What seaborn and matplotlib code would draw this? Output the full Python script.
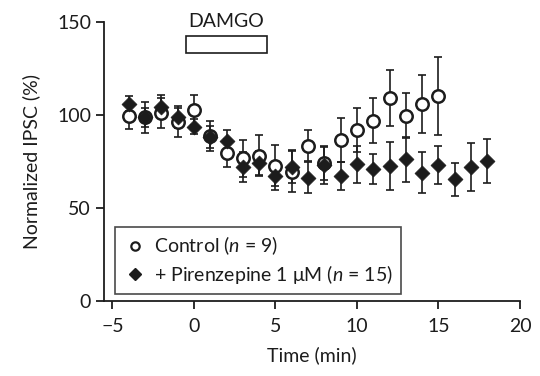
import numpy as np
import pandas as pd
import seaborn as sns
import matplotlib.pyplot as plt
from matplotlib.patches import Rectangle
from matplotlib.lines import Line2D

# values
ctrl_t = list(range(-4, 16))
ctrl_y = [99.5, 98.7, 101, 96, 102.7, 88.7, 79.7, 76.7, 78, 72.7,
          69.5, 83.5, 74, 86.6, 92, 97, 109.3, 99.6, 105.9, 110.4]
ctrl_err = [7, 8.5, 8, 8, 8, 8, 7.5, 10, 11, 11,
            11, 8.5, 9, 12, 12, 12, 15, 12, 15.5, 21]

pir_t = list(range(-4, 19))
pir_y = [106, 98.7, 104.5, 99, 93.7, 88.3, 86.2, 72.2, 74, 67.2, 72.2, 66.3,
         73.1, 67.2, 73.5, 71, 72.6, 76.2, 69, 73.1, 65.4, 72.2, 75.3]
pir_err = [4, 5, 6, 6, 4, 6, 6, 8, 6.5, 7.5, 9, 8.5,
           10, 7.5, 10, 8, 13, 12, 11, 10, 9, 13, 12]

df_ctrl = pd.DataFrame({'time': ctrl_t, 'ipsc': ctrl_y})
df_pir = pd.DataFrame({'time': pir_t, 'ipsc': pir_y})

sns.set_style('ticks')
plt.rcParams['font.family'] = ['Lato', 'DejaVu Sans']
plt.rcParams['mathtext.fontset'] = 'custom'
plt.rcParams['mathtext.it'] = 'Lato:italic'
plt.rcParams['mathtext.rm'] = 'Lato'

ink = '#1c1c1c'
fs = 14
fig = plt.figure(figsize=(5.4, 3.76), dpi=100)
ax = fig.add_axes([0.193, 0.1995, 0.770, 0.742])

# error bars
ax.errorbar(ctrl_t, ctrl_y, yerr=ctrl_err, fmt='none', ecolor=ink,
            elinewidth=1.2, capsize=3, capthick=1.2, zorder=2)
ax.errorbar(pir_t, pir_y, yerr=pir_err, fmt='none', ecolor=ink,
            elinewidth=1.2, capsize=3, capthick=1.2, zorder=2)

# markers
sns.scatterplot(data=df_ctrl, x='time', y='ipsc', ax=ax, marker='o', s=80,
                facecolor='white', edgecolor=ink, linewidth=1.8, zorder=3)
sns.scatterplot(data=df_pir, x='time', y='ipsc', ax=ax, marker='D', s=58,
                color=ink, edgecolor=ink, linewidth=0.5, zorder=4)

ax.set_xlim(-5.5, 20)
ax.set_ylim(0, 150)
ax.set_xticks([-5, 0, 5, 10, 15, 20])
ax.set_xticklabels(['\u22125', '0', '5', '10', '15', '20'])
ax.set_yticks([0, 50, 100, 150])
ax.tick_params(axis='both', labelsize=fs, width=1.3, length=6, color=ink,
               labelcolor=ink)
ax.tick_params(axis='x', pad=6)
for s in ['left', 'bottom']:
    ax.spines[s].set_linewidth(1.3)
    ax.spines[s].set_color(ink)
sns.despine(ax=ax)
ax.set_xlabel('Time (min)', fontsize=fs, color=ink, labelpad=8)
ax.set_ylabel('Normalized IPSC (%)', fontsize=fs, color=ink, labelpad=12)

# DAMGO application bar
ax.add_patch(Rectangle((-0.5, 133.5), 5.0, 9.2, facecolor='white',
                       edgecolor=ink, linewidth=1.2, clip_on=False))
ax.text(2.0, 150.5, 'DAMGO', ha='center', va='center', fontsize=fs,
        color=ink, clip_on=False)

handles = [
    Line2D([], [], marker='o', ls='none', markersize=6, markerfacecolor='white',
           markeredgecolor=ink, markeredgewidth=1.6),
    Line2D([], [], marker='D', ls='none', markersize=6.5, color=ink),
]
labels = ['Control ($n$ = 9)', '+ Pirenzepine 1 \u03bcM ($n$ = 15)']
leg = ax.legend(handles, labels, loc='lower left', bbox_to_anchor=(0.027, 0.025),
                fontsize=fs, frameon=True, fancybox=False, edgecolor=ink,
                handletextpad=0.4, handlelength=1.2, borderpad=0.4,
                labelspacing=0.3, borderaxespad=0)
leg.get_frame().set_linewidth(1.2)
for t in leg.get_texts():
    t.set_color(ink)

fig.savefig('out.png', dpi=100)
